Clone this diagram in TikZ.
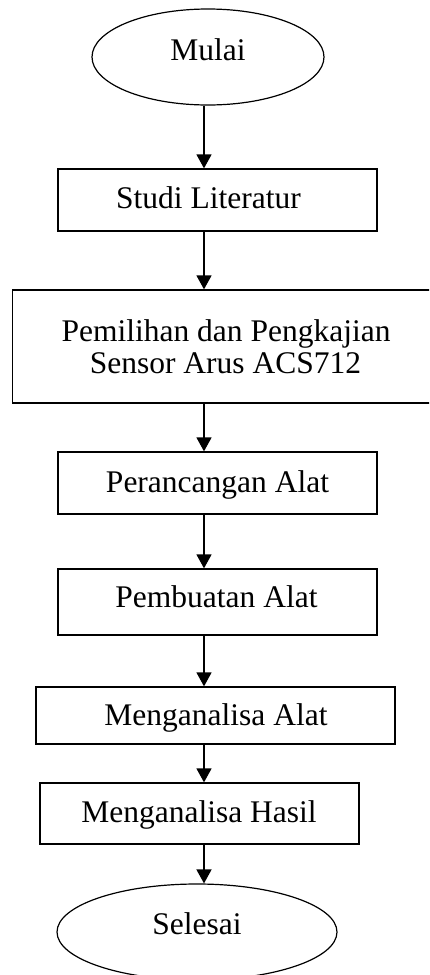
\documentclass[tikz,border=0pt]{standalone}
\usepackage{fontspec}
\setmainfont{Liberation Serif}
\usetikzlibrary{arrows.meta,shapes.geometric}
\begin{document}
\begin{tikzpicture}[x=1pt,y=-1pt,
  boxnode/.style={draw,line width=1.3pt,rectangle,inner sep=0pt},
  ellnode/.style={draw,line width=1.2pt,ellipse,inner sep=0pt},
  lbl/.style={anchor=base,inner sep=0pt,font=\fontsize{31.5}{32}\selectfont,align=center},
  arr/.style={line width=1.6pt,-{Triangle[length=14pt,width=15pt]}}]
\useasboundingbox (0,0) rectangle (429,975);
\clip (0,0) rectangle (429,975);
\fill[white] (0,0) rectangle (429,975);
\coordinate (ax) at (204,0);
% shapes
\node[ellnode,minimum width=232pt,minimum height=96pt] (mulai) at (208,57) {};
\node[boxnode,minimum width=319pt,minimum height=62pt] (studi) at (217.5,200) {};
\node[boxnode,minimum width=428pt,minimum height=113pt] (pemilihan) at (226.5,346.5) {};
\node[boxnode,minimum width=319pt,minimum height=62pt] (rancang) at (217.5,483) {};
\node[boxnode,minimum width=319pt,minimum height=66pt] (buat) at (217.5,602) {};
\node[boxnode,minimum width=359pt,minimum height=57pt] (analat) at (215.5,715.5) {};
\node[boxnode,minimum width=319pt,minimum height=61pt] (anhasil) at (199.5,813.5) {};
\node[ellnode,minimum width=280pt,minimum height=96pt] (selesai) at (197,932) {};
% labels
\node[lbl] (tmulai) at (208,60) {Mulai};
\node[lbl] (tstudi) at (208.5,208) {Studi Literatur};
\node[lbl] (tpem1) at (226,341) {Pemilihan dan Pengkajian};
\node[lbl] (tpem2) at (225.5,373) {Sensor Arus ACS712};
\node[lbl] (trancang) at (217.5,492) {Perancangan Alat};
\node[lbl] (tbuat) at (216.5,607) {Pembuatan Alat};
\node[lbl] (tanalat) at (216,725) {Menganalisa Alat};
\node[lbl] (tanhasil) at (199,822) {Menganalisa Hasil};
\node[lbl] (tselesai) at (197,934) {Selesai};
% arrows
\draw[arr] (mulai.south -| ax) -- (studi.north -| ax);
\draw[arr] (studi.south -| ax) -- (pemilihan.north -| ax);
\draw[arr] (pemilihan.south -| ax) -- (rancang.north -| ax);
\draw[arr] (rancang.south -| ax) -- (buat.north -| ax);
\draw[arr] (buat.south -| ax) -- (analat.north -| ax);
\draw[arr] (analat.south -| ax) -- (anhasil.north -| ax);
\draw[arr] (anhasil.south -| ax) -- (selesai.north -| ax);
\end{tikzpicture}
\end{document}
